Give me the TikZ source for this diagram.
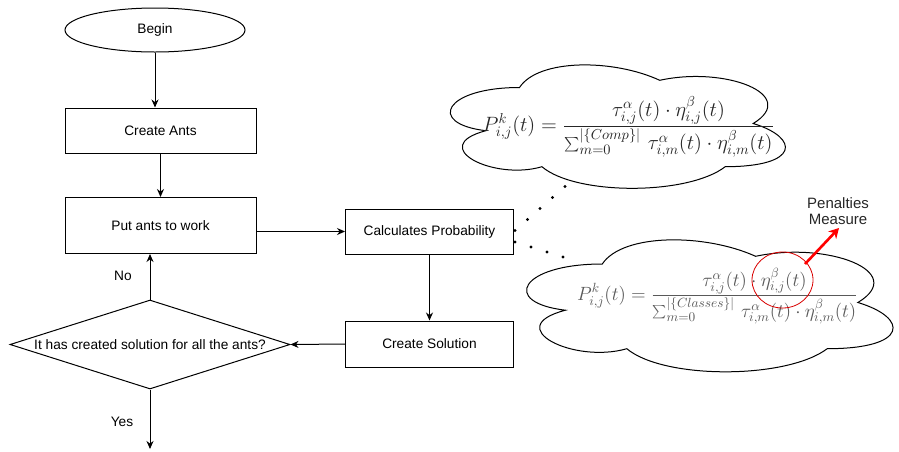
\documentclass[tikz,border=0pt]{standalone}
\usepackage{fontspec}
\setmainfont{Liberation Sans}
\usepackage{graphicx}
\usetikzlibrary{shapes.geometric, arrows.meta}
\begin{document}
\begin{tikzpicture}[x=1pt,y=-1pt,
  every node/.style={font=\fontsize{13.7}{15}\selectfont},
  flowbox/.style={draw, line width=1pt, rectangle, inner sep=0pt},
  conn/.style={line width=1pt},
  arr/.style={line width=1pt, -{Stealth[length=8pt,width=7pt]}},
  cloudline/.style={draw=black, fill=white, line width=1pt},
  dot/.style={fill=black}
]
\useasboundingbox (0,0) rectangle (899,451);

% flowchart nodes
\node[draw, line width=1pt, ellipse, minimum width=180pt, minimum height=44pt, inner sep=0pt] (begin) at (155,30) {Begin};
\node[flowbox, minimum width=191pt, minimum height=45pt] (ants) at (160.5,130.5) {Create Ants};
\node[flowbox, minimum width=191pt, minimum height=56pt] (put) at (160.5,225.5) {Put ants to work};
\node[flowbox, minimum width=168pt, minimum height=45pt] (calc) at (429.5,231.5) {Calculates Probability};
\node[flowbox, minimum width=168pt, minimum height=46pt] (sol) at (429.5,344) {Create Solution};
\node[draw, line width=1pt, diamond, minimum width=280pt, minimum height=89pt, inner sep=0pt] (dec) at (150,344.5) {};
\node (dectext) at (dec.center) {It has created solution for all the ants?};
\node (no) at (123,276) {No};
\node (yes) at (122,422) {Yes};
\coordinate (yesend) at (150,449);

% connectors
\draw[arr] (begin.south) -- (begin.south |- ants.north);
\draw[arr] (put.north |- ants.south) -- (put.north);
\draw[arr] (put.east |- calc.west) -- (calc.west);
\draw[arr] (calc.south) -- (sol.north);
\draw[arr] (sol.west) -- (dec.east);
\draw[arr] (dec.north) -- (dec.north |- put.south);
\draw[arr] (dec.south) -- (yesend);

% cloud 1
\begin{scope}[shift={(426,51.5)}, x=374pt, y=-144pt]
\draw[cloudline] (0.25,0.25) .. controls (0.05,0.25) and (0,0.5) .. (0.16,0.55)
  .. controls (0,0.66) and (0.18,0.9) .. (0.31,0.8)
  .. controls (0.4,1) and (0.7,1) .. (0.8,0.8)
  .. controls (1,0.8) and (1,0.6) .. (0.875,0.5)
  .. controls (1,0.3) and (0.8,0.1) .. (0.625,0.2)
  .. controls (0.5,0.05) and (0.3,0.05) .. (0.25,0.25) -- cycle;
\end{scope}
\node[text=black!85, inner sep=0pt] (f1) at (628.5,127) {\scalebox{1.44}{$\displaystyle P^k_{i,j}(t)=\frac{\tau^\alpha_{i,j}(t)\cdot\eta^\beta_{i,j}(t)}{\sum_{m=0}^{|\{Comp\}|}\,\tau^\alpha_{i,m}(t)\cdot\eta^\beta_{i,m}(t)}$}};

% cloud 2
\begin{scope}[shift={(500,225.5)}, x=409pt, y=-154pt]
\draw[cloudline] (0.25,0.25) .. controls (0.05,0.25) and (0,0.5) .. (0.16,0.55)
  .. controls (0,0.66) and (0.18,0.9) .. (0.31,0.8)
  .. controls (0.4,1) and (0.7,1) .. (0.8,0.8)
  .. controls (1,0.8) and (1,0.6) .. (0.875,0.5)
  .. controls (1,0.3) and (0.8,0.1) .. (0.625,0.2)
  .. controls (0.5,0.05) and (0.3,0.05) .. (0.25,0.25) -- cycle;
\end{scope}
\node[text=black!65, inner sep=0pt] (f2) at (717.5,296) {\scalebox{1.33}{$\displaystyle P^k_{i,j}(t)=\frac{\tau^\alpha_{i,j}(t)\cdot\eta^\beta_{i,j}(t)}{\sum_{m=0}^{|\{Classes\}|}\,\tau^\alpha_{i,m}(t)\cdot\eta^\beta_{i,m}(t)}$}};

% thought dots
\foreach \px/\py in {515/230.5, 527.5/219.5, 540/208.5, 552.5/197.5, 565/186.5,
                     515/242, 531/247, 547/252, 563/257}
  \fill[dot] (\px,\py) circle (1.6);

% penalty highlight
\node[draw=red!85!black, line width=0.8pt, ellipse, minimum width=61pt, minimum height=56pt, inner sep=0pt] (pen) at (782.5,280) {};
\node[align=center, font=\fontsize{15}{16.5}\selectfont, text=black!85] (penlabel) at (838,211) {Penalties\\Measure};
\coordinate (redstart) at (805,264);
\coordinate (redend) at (839,228);
\draw[red, line width=2.6pt, -{Stealth[length=10pt,width=11pt]}] (redstart) -- (redend);
\end{tikzpicture}
\end{document}
